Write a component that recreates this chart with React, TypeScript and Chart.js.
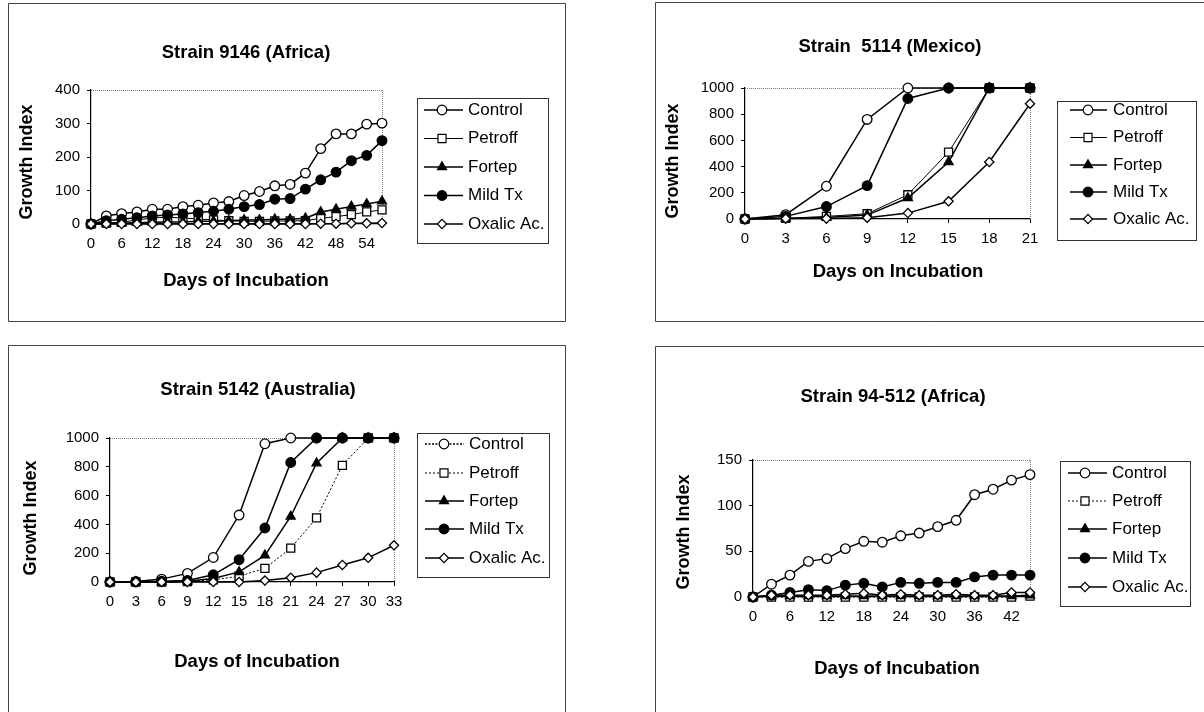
import React, { useEffect, useRef } from 'react';
import { Chart, registerables } from 'chart.js';
import { drawPoint } from 'chart.js/helpers';

Chart.register(...registerables);

const FONT = "'Liberation Sans', Arial, Helvetica, sans-serif";

const SERIES_NAMES = ['Control', 'Petroff', 'Fortep', 'Mild Tx', 'Oxalic Ac.'];

// ---------- Strain 9146 (Africa) ----------
const days1 = [0, 3, 6, 9, 12, 15, 18, 21, 24, 27, 30, 33, 36, 39, 42, 45, 48, 51, 54, 57];
const control1 = [0, 24, 31, 36, 44, 44, 52, 56, 63, 67, 85, 97, 114, 118, 152, 225, 269, 269, 298, 301];
const petroff1 = [0, 3, 5, 12, 18, 20, 18, 15, 12, 10, 8, 8, 9, 9, 10, 17, 22, 28, 36, 42];
const fortep1 = [0, 2, 3, 4, 5, 6, 6, 8, 8, 10, 12, 12, 14, 14, 17, 36, 44, 52, 60, 68];
const mild1 = [0, 10, 14, 19, 24, 27, 30, 34, 38, 44, 52, 58, 74, 76, 104, 132, 155, 189, 205, 249];
const oxalic1 = [0, 0, 0, 0, 0, 0, 0, 0, 0, 0, 0, 0, 0, 0, 0, 1, 1, 2, 2, 3];

// ---------- Strain 5114 (Mexico) ----------
const days2 = [0, 3, 6, 9, 12, 15, 18, 21];
const control2 = [0, 33, 250, 760, 1000, 1000, 1000, 1000];
const petroff2 = [0, 5, 20, 40, 185, 510, 1000, 1000];
const fortep2 = [0, 3, 12, 30, 160, 435, 1000, 1000];
const mild2 = [0, 20, 95, 255, 920, 1000, 1000, 1000];
const oxalic2 = [0, 3, 3, 10, 45, 135, 435, 880];

// ---------- Strain 5142 (Australia) ----------
const days3 = [0, 3, 6, 9, 12, 15, 18, 21, 24, 27, 30, 33];
const control3 = [0, 3, 20, 60, 170, 465, 960, 1000, 1000, 1000, 1000, 1000];
const petroff3 = [0, 0, 0, 3, 15, 40, 95, 235, 445, 810, 1000, 1000];
const fortep3 = [0, 0, 0, 5, 25, 70, 185, 455, 825, 1000, 1000, 1000];
const mild3 = [0, 0, 5, 10, 50, 155, 375, 830, 1000, 1000, 1000, 1000];
const oxalic3 = [0, 0, 0, 0, 0, 0, 10, 30, 65, 118, 168, 255];

// ---------- Strain 94-512 (Africa) ----------
const days4 = [0, 3, 6, 9, 12, 15, 18, 21, 24, 27, 30, 33, 36, 39, 42, 45];
const control4 = [0, 14, 24, 39, 42, 53, 61, 60, 67, 70, 77, 84, 112, 118, 128, 134];
const petroff4 = [0, 0, 0, 0, 0, 0, 0, 0, 0, 0, 0, 0, 0, 0, 0, 1];
const fortep4 = [0, 1, 1, 1, 1, 1, 1, 1, 1, 1, 1, 1, 1, 1, 1, 2];
const mild4 = [0, 2, 5, 8, 7, 13, 15, 11, 16, 15, 16, 16, 22, 24, 24, 24];
const oxalic4 = [0, 2, 2, 2, 2, 3, 4, 2, 3, 2, 2, 3, 2, 2, 5, 5];

const SERIES_STYLE = [
  { pointStyle: 'circle', radius: 4.8, fill: '#ffffff' },
  { pointStyle: 'rect', radius: 5.7, fill: '#ffffff' },
  { pointStyle: 'triangle', radius: 5.2, fill: '#000000' },
  { pointStyle: 'circle', radius: 4.8, fill: '#000000' },
  { pointStyle: 'rectRot', radius: 4.6, fill: '#ffffff' },
];

type Panel = {
  left: number; top: number; width: number; height: number;
  area: { l: number; r: number; t: number; b: number };
  title: string; titleX: number; titleY: number;
  xTitle: string; xTitleX: number; xTitleY: number;
  yTitleX: number; yTitleY: number;
  legend: { x1: number; x2: number; y1: number; y2: number; rows: number[]; lx1: number; lx2: number; mx: number; tx: number };
  box: { l: number; t: number; r: number; b: number; sides: string };
  xMax: number; xStep: number; yMax: number; yStep: number;
  days: number[]; series: number[][]; petroffDash: number[]; controlLegendDash: number[];
};

const PANELS: Panel[] = [
  {
    left: 0, top: 0, width: 600, height: 333,
    area: { l: 91, r: 382, t: 90, b: 224 },
    title: 'Strain 9146 (Africa)', titleX: 246, titleY: 53,
    xTitle: 'Days of Incubation', xTitleX: 246, xTitleY: 281,
    yTitleX: 27, yTitleY: 162,
    legend: { x1: 417, x2: 548, y1: 98, y2: 243, rows: [110, 138.5, 167, 195.5, 224], lx1: 424, lx2: 463, mx: 442, tx: 468 },
    box: { l: 8, t: 3, r: 565, b: 321, sides: 'ltrb' },
    xMax: 57, xStep: 6, yMax: 400, yStep: 100,
    days: days1, series: [control1, petroff1, fortep1, mild1, oxalic1], petroffDash: [], controlLegendDash: [],
  },
  {
    left: 600, top: 0, width: 604, height: 333,
    area: { l: 145, r: 430, t: 88, b: 219 },
    title: 'Strain  5114 (Mexico)', titleX: 290, titleY: 47,
    xTitle: 'Days on Incubation', xTitleX: 298, xTitleY: 272,
    yTitleX: 73, yTitleY: 161,
    legend: { x1: 457, x2: 596, y1: 101, y2: 240, rows: [110, 137.5, 165, 192, 219], lx1: 470, lx2: 507, mx: 488, tx: 513 },
    box: { l: 55, t: 2, r: 700, b: 321, sides: 'ltb' },
    xMax: 21, xStep: 3, yMax: 1000, yStep: 200,
    days: days2, series: [control2, petroff2, fortep2, mild2, oxalic2], petroffDash: [], controlLegendDash: [],
  },
  {
    left: 0, top: 333, width: 600, height: 379,
    area: { l: 110, r: 394, t: 105, b: 249 },
    title: 'Strain 5142 (Australia)', titleX: 258, titleY: 57,
    xTitle: 'Days of Incubation', xTitleX: 257, xTitleY: 329,
    yTitleX: 31, yTitleY: 185,
    legend: { x1: 417, x2: 549, y1: 100, y2: 244, rows: [111, 140, 168, 196, 225], lx1: 425, lx2: 464, mx: 444, tx: 469 },
    box: { l: 8, t: 12, r: 565, b: 500, sides: 'ltr' },
    xMax: 33, xStep: 3, yMax: 1000, yStep: 200,
    days: days3, series: [control3, petroff3, fortep3, mild3, oxalic3], petroffDash: [2, 2], controlLegendDash: [2, 1.5],
  },
  {
    left: 600, top: 333, width: 604, height: 379,
    area: { l: 153, r: 430, t: 127, b: 264 },
    title: 'Strain 94-512 (Africa)', titleX: 293, titleY: 64,
    xTitle: 'Days of Incubation', xTitleX: 297, xTitleY: 336,
    yTitleX: 84, yTitleY: 199,
    legend: { x1: 460, x2: 590, y1: 128, y2: 273, rows: [140, 168, 196, 225, 254], lx1: 468, lx2: 507, mx: 485, tx: 512 },
    box: { l: 55, t: 13, r: 700, b: 500, sides: 'lt' },
    xMax: 45, xStep: 6, yMax: 150, yStep: 50,
    days: days4, series: [control4, petroff4, fortep4, mild4, oxalic4], petroffDash: [2, 2], controlLegendDash: [],
  },
];

function ChartPanel({ p }: { p: Panel }) {
  const ref = useRef<HTMLCanvasElement | null>(null);

  useEffect(() => {
    if (!ref.current) return;
    const X_AXIS_H = 40;
    const PAD_L = 10;

    const decor = {
      id: 'decor',
      beforeDraw(chart: any) {
        const ctx = chart.ctx;
        ctx.save();
        ctx.strokeStyle = '#444';
        ctx.lineWidth = 1;
        const b = p.box;
        const L = b.l + 0.5, T = b.t + 0.5, R = b.r + 0.5, B = b.b + 0.5;
        ctx.beginPath();
        if (b.sides.includes('l')) { ctx.moveTo(L, T); ctx.lineTo(L, B); }
        if (b.sides.includes('t')) { ctx.moveTo(L, T); ctx.lineTo(R, T); }
        if (b.sides.includes('r')) { ctx.moveTo(R, T); ctx.lineTo(R, B); }
        if (b.sides.includes('b')) { ctx.moveTo(L, B); ctx.lineTo(R, B); }
        ctx.stroke();
        ctx.restore();
      },
      beforeDatasetsDraw(chart: any) {
        const ctx = chart.ctx;
        const a = chart.chartArea;
        ctx.save();
        ctx.strokeStyle = '#777';
        ctx.lineWidth = 1;
        ctx.setLineDash([1, 1]);
        ctx.beginPath();
        ctx.moveTo(a.left, a.top + 0.5);
        ctx.lineTo(a.right, a.top + 0.5);
        ctx.moveTo(a.right + 0.5, a.top);
        ctx.lineTo(a.right + 0.5, a.bottom);
        ctx.stroke();
        ctx.restore();
      },
      afterDraw(chart: any) {
        const ctx = chart.ctx;
        ctx.save();
        ctx.fillStyle = '#000';
        ctx.textBaseline = 'middle';
        ctx.textAlign = 'center';
        ctx.font = `bold 18.5px ${FONT}`;
        ctx.fillText(p.title, p.titleX, p.titleY);
        ctx.fillText(p.xTitle, p.xTitleX, p.xTitleY);
        ctx.save();
        ctx.translate(p.yTitleX, p.yTitleY);
        ctx.rotate(-Math.PI / 2);
        ctx.font = `bold 18px ${FONT}`;
        ctx.fillText('Growth Index', 0, 0);
        ctx.restore();

        // legend
        const lg = p.legend;
        ctx.fillStyle = '#fff';
        ctx.fillRect(lg.x1, lg.y1, lg.x2 - lg.x1, lg.y2 - lg.y1);
        ctx.strokeStyle = '#333';
        ctx.lineWidth = 1;
        ctx.strokeRect(lg.x1 + 0.5, lg.y1 + 0.5, lg.x2 - lg.x1, lg.y2 - lg.y1);
        SERIES_NAMES.forEach((name, i) => {
          const y = lg.rows[i];
          const ds = chart.data.datasets[i];
          ctx.save();
          ctx.strokeStyle = '#000';
          ctx.lineWidth = ds.borderWidth;
          ctx.setLineDash(i === 0 ? p.controlLegendDash : (ds.borderDash || []));
          ctx.beginPath();
          ctx.moveTo(lg.lx1, y);
          ctx.lineTo(lg.lx2, y);
          ctx.stroke();
          ctx.restore();
          const st = SERIES_STYLE[i];
          ctx.save();
          ctx.fillStyle = st.fill;
          ctx.strokeStyle = '#000';
          ctx.lineWidth = 1.2;
          ctx.setLineDash([]);
          drawPoint(ctx, { pointStyle: st.pointStyle, radius: st.radius, rotation: 0, borderWidth: 1.2 } as any, lg.mx, y);
          ctx.restore();
          ctx.fillStyle = '#000';
          ctx.textAlign = 'left';
          ctx.font = `17px ${FONT}`;
          ctx.fillText(name, lg.tx, y);
        });
        ctx.restore();
      },
    };

    const datasets = SERIES_NAMES.map((name, i) => {
      const st = SERIES_STYLE[i];
      const vals = p.series[i];
      return {
        label: name,
        data: p.days.map((d, j) => ({ x: d, y: vals[j] })),
        borderColor: '#000',
        borderWidth: i === 1 ? 1 : 1.5,
        borderDash: i === 1 ? p.petroffDash : [],
        pointStyle: st.pointStyle,
        pointRadius: st.radius,
        pointBackgroundColor: st.fill,
        pointBorderColor: '#000',
        pointBorderWidth: 1.3,
        fill: false,
        tension: 0,
        clip: false,
        order: 5 - i,
      };
    });

    const axisFont = { family: FONT, size: 15 };
    const chart = new Chart(ref.current, {
      type: 'line',
      data: { datasets } as any,
      plugins: [decor],
      options: {
        animation: false,
        responsive: false,
        devicePixelRatio: 1,
        events: [],
        layout: {
          padding: {
            left: PAD_L,
            right: p.width - p.area.r,
            top: p.area.t,
            bottom: p.height - p.area.b - X_AXIS_H,
          },
        },
        plugins: {
          legend: { display: false },
          title: { display: false },
          tooltip: { enabled: false },
        },
        scales: {
          x: {
            type: 'linear',
            min: 0,
            max: p.xMax,
            border: { display: true, color: '#000', width: 1.2 },
            grid: { display: true, drawOnChartArea: false, drawTicks: true, tickLength: 4, color: '#000', lineWidth: 1 },
            ticks: {
              stepSize: p.xStep,
              includeBounds: false,
              autoSkip: false,
              maxRotation: 0,
              minRotation: 0,
              padding: 7,
              color: '#000',
              font: axisFont,
              callback: (v: any) => String(v),
            },
            afterFit: (s: any) => { s.height = X_AXIS_H; },
          },
          y: {
            type: 'linear',
            min: 0,
            max: p.yMax,
            border: { display: true, color: '#000', width: 1.2 },
            grid: { display: true, drawOnChartArea: false, drawTicks: true, tickLength: 4, color: '#000', lineWidth: 1 },
            ticks: {
              stepSize: p.yStep,
              padding: 7,
              color: '#000',
              font: axisFont,
              callback: (v: any) => String(v),
            },
            afterFit: (s: any) => { s.width = p.area.l - PAD_L; },
          },
        },
      } as any,
    });
    return () => chart.destroy();
  }, [p]);

  return (
    <canvas
      ref={ref}
      width={p.width}
      height={p.height}
      style={{ position: 'absolute', left: p.left, top: p.top, width: p.width, height: p.height }}
    />
  );
}

export default function App() {
  return (
    <div style={{ position: 'absolute', left: 0, top: 0, width: 1204, height: 712, overflow: 'hidden', background: '#fff' }}>
      {PANELS.map((p, i) => (
        <ChartPanel key={i} p={p} />
      ))}
    </div>
  );
}
